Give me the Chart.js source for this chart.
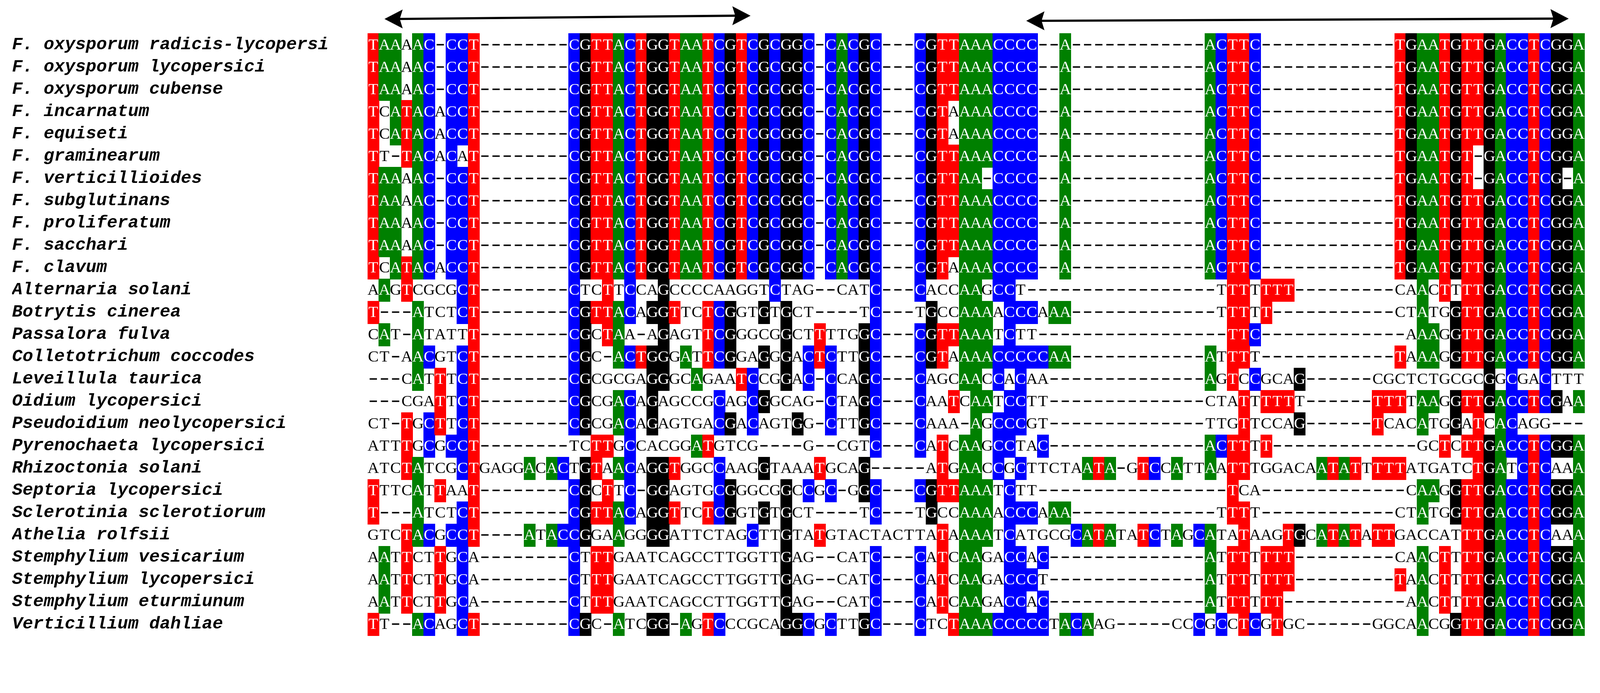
<!DOCTYPE html>
<html>
<head>
<meta charset="utf-8">
<script src="https://cdn.jsdelivr.net/npm/chart.js@4/dist/chart.umd.min.js"></script>
<style>
  html, body { margin: 0; padding: 0; background: #fff; overflow: hidden; }
  canvas { display: block; }
</style>
</head>
<body>
<canvas id="aln"></canvas>
<script>
const species = [
  "F. oxysporum radicis-lycopersi", "F. oxysporum lycopersici", "F. oxysporum cubense",
  "F. incarnatum", "F. equiseti", "F. graminearum", "F. verticillioides",
  "F. subglutinans", "F. proliferatum", "F. sacchari", "F. clavum",
  "Alternaria solani", "Botrytis cinerea", "Passalora fulva", "Colletotrichum coccodes",
  "Leveillula taurica", "Oidium lycopersici", "Pseudoidium neolycopersici",
  "Pyrenochaeta lycopersici", "Rhizoctonia solani", "Septoria lycopersici",
  "Sclerotinia sclerotiorum", "Athelia rolfsii", "Stemphylium vesicarium",
  "Stemphylium lycopersici", "Stemphylium eturmiunum", "Verticillium dahliae"
];

// aligned sequences, 109 columns each
const sequences = [
  "TAAAAC-CCT" + "--------" + "CGTTACTGGTAATCGTCGCGGC-CACGC---CGTTAAACCCC--A" + "------------" + "ACTTC" + "------------" + "TGAATGTTGACCTCGGA",
  "TAAAAC-CCT" + "--------" + "CGTTACTGGTAATCGTCGCGGC-CACGC---CGTTAAACCCC--A" + "------------" + "ACTTC" + "------------" + "TGAATGTTGACCTCGGA",
  "TAAAAC-CCT" + "--------" + "CGTTACTGGTAATCGTCGCGGC-CACGC---CGTTAAACCCC--A" + "------------" + "ACTTC" + "------------" + "TGAATGTTGACCTCGGA",
  "TCATACACCT" + "--------" + "CGTTACTGGTAATCGTCGCGGC-CACGC---CGTAAAACCCC--A" + "------------" + "ACTTC" + "------------" + "TGAATGTTGACCTCGGA",
  "TCATACACCT" + "--------" + "CGTTACTGGTAATCGTCGCGGC-CACGC---CGTAAAACCCC--A" + "------------" + "ACTTC" + "------------" + "TGAATGTTGACCTCGGA",
  "TT-TACACAT" + "--------" + "CGTTACTGGTAATCGTCGCGGC-CACGC---CGTTAAACCCC--A" + "------------" + "ACTTC" + "------------" + "TGAATGT-GACCTCGGA",
  "TAAAAC-CCT" + "--------" + "CGTTACTGGTAATCGTCGCGGC-CACGC---CGTTAA-CCCC--A" + "------------" + "ACTTC" + "------------" + "TGAATGT-GACCTCG-A",
  "TAAAAC-CCT" + "--------" + "CGTTACTGGTAATCGTCGCGGC-CACGC---CGTTAAACCCC--A" + "------------" + "ACTTC" + "------------" + "TGAATGTTGACCTCGGA",
  "TAAAAC-CCT" + "--------" + "CGTTACTGGTAATCGTCGCGGC-CACGC---CGTTAAACCCC--A" + "------------" + "ACTTC" + "------------" + "TGAATGTTGACCTCGGA",
  "TAAAAC-CCT" + "--------" + "CGTTACTGGTAATCGTCGCGGC-CACGC---CGTTAAACCCC--A" + "------------" + "ACTTC" + "------------" + "TGAATGTTGACCTCGGA",
  "TCATACACCT" + "--------" + "CGTTACTGGTAATCGTCGCGGC-CACGC---CGTAAAACCCC--A" + "------------" + "ACTTC" + "------------" + "TGAATGTTGACCTCGGA",
  "AAGTCGCGCT" + "--------" + "CTCTTCCAGCCCCAAGGTCTAG--CATC---CACCAAGCCT" + "-----------------" + "TTTTTTT" + "---------" + "CAACTTTTGACCTCGGA",
  "T---ATCTCT" + "--------" + "CGTTACAGGTTCTCGGTGTGCT----TC---TGCCAAAACCCAAA" + "-------------" + "TTTTT" + "-----------" + "CTATGGTTGACCTCGGA",
  "CAT-ATATTT" + "--------" + "CGCTAA-AGAGTTCGGGCGGCTTTTGGC---CGTTAAATCTT" + "-----------------" + "TTC" + "-------------" + "AAAGGTTGACCTCGGA",
  "CT-AACGTCT" + "--------" + "CGC-ACTGGGATTCGGAGGGACTCTTGC---CGTAAAACCCCCAA" + "------------" + "ATTTT" + "------------" + "TAAAGGTTGACCTCGGA",
  "---CATTTCT" + "--------" + "CGCGCGAGGGCAGAATCCGGAC-CCAGC---CAGCAACCACAA" + "--------------" + "AGTCCGCAG" + "------" + "CGCTCTGCGCGGCGACTTT",
  "---CGATTCT" + "--------" + "CGCGACAGAGCCGCAGCGGCAG-CTAGC---CAATCAATCCTT" + "--------------" + "CTATTTTTT" + "------" + "TTTTAAGGTTGACCTCGAA",
  "CT-TGCTTCT" + "--------" + "CGCGACAGAGTGACGACAGTGG-CTTGC---CAAA-AGCCCGT" + "--------------" + "TTGTTCCAG" + "------" + "TCACATGGATCACAGG---",
  "ATTTGCGCCT" + "--------" + "TCTTGCCACGGATGTCG----G--CGTC---CATCAAGCCTAC" + "--------------" + "ACTTTT" + "-------------" + "GCTCTTGACCTCGGA",
  "ATCTATCGCT" + "GAGGACAC" + "TGTAACAGGTGGCCAAGGTAAATGCAG-----ATGAACCGCTTCTAATA-GTCCATT" + "AATTTGGACAATATTTTTATGATCTGATCTCAAA",
  "TTTCATTAAT" + "--------" + "CGCTTC-GGAGTGCGGGCGGCCGC-GGC---CGTTAAATCTT" + "-----------------" + "TCA" + "-------------" + "CAAGGTTGACCTCGGA",
  "T---ATCTCT" + "--------" + "CGTTACAGGTTCTCGGTGTGCT----TC---TGCCAAAACCCAAA" + "-------------" + "TTTT" + "------------" + "CTATGGTTGACCTCGGA",
  "GTCTACGCCT" + "----" + "ATACCGGAAGGGGATTCTAGCTTGTATGTACTACTTATAAAATCATGCGCATATATCTAGCATATAAGTGCATATATTGACCATTTGACCTCAAA",
  "AATTCTTGCA" + "--------" + "CTTTGAATCAGCCTTGGTTGAG--CATC---CATCAAGACCAC" + "--------------" + "ATTTTTTT" + "---------" + "CAACTTTTGACCTCGGA",
  "AATTCTTGCA" + "--------" + "CTTTGAATCAGCCTTGGTTGAG--CATC---CATCAAGACCCT" + "--------------" + "ATTTTTTT" + "---------" + "TAACTTTTGACCTCGGA",
  "AATTCTTGCA" + "--------" + "CTTTGAATCAGCCTTGGTTGAG--CATC---CATCAAGACCAC" + "--------------" + "ATTTTTT" + "-----------" + "AACTTTTGACCTCGGA",
  "TT--ACAGCT" + "--------" + "CGC-ATCGG-AGTCCCGCAGGCGCTTGC---CTCTAAACCCCCTACAAG" + "-----" + "CCCGCCTCGTGC" + "------" + "GGCAACGGTTGACCTCGGA"
];

// double-headed arrows above the alignment, in column units
const arrowStart = [1.5, 59.0];
const arrowEnd = [34.3, 107.6];
const arrowYStart = [52, 57];
const arrowYEnd = [43, 51];

const NCOL = 109;
const baseColor = { A: "#008000", C: "#0000ff", G: "#000000", T: "#ff0000" };

// fit the 4386x1773 design into whatever the window really is
const S = Math.min(window.innerWidth / 4386, window.innerHeight / 1773) || 1;
const canvas = document.getElementById("aln");
canvas.width = Math.round(4386 * S);
canvas.height = Math.round(1773 * S);

// column consensus decides which cells are shaded
const consensus = [];
for (let c = 0; c < NCOL; c++) {
  const cnt = {};
  sequences.forEach(s => {
    const b = s[c];
    if (b && b !== "-") cnt[b] = (cnt[b] || 0) + 1;
  });
  let best = null, n = 0;
  Object.keys(cnt).forEach(b => { if (cnt[b] > n) { best = b; n = cnt[b]; } });
  consensus.push(n >= 2 ? best : null);
}

const cells = [];
sequences.forEach((s, r) => {
  for (let c = 0; c < NCOL; c++) {
    const b = s[c] || "-";
    cells.push({ x: c + 0.5, y: species[r], base: b, shade: b !== "-" && b === consensus[c] });
  }
});

const cellPlugin = {
  id: "cells",
  afterDatasetsDraw(chart) {
    const ctx = chart.ctx;
    const xs = chart.scales.x, ys = chart.scales.y;
    const w = xs.getPixelForValue(1) - xs.getPixelForValue(0);
    const h = (ys.bottom - ys.top) / species.length;
    const pts = chart.getDatasetMeta(0).data;
    ctx.save();
    pts.forEach((p, i) => {
      const d = cells[i];
      if (!d.shade) return;
      ctx.fillStyle = baseColor[d.base];
      ctx.fillRect(Math.floor(p.x - w / 2), Math.floor(p.y - h / 2), Math.ceil(w) + 1, Math.ceil(h) + 1);
    });
    ctx.font = Math.round(44 * S) + "px 'Liberation Serif'";
    ctx.textAlign = "center";
    ctx.textBaseline = "middle";
    pts.forEach((p, i) => {
      const d = cells[i];
      if (d.base === "-") {
        ctx.fillStyle = "#000";
        ctx.fillRect(p.x - 10 * S, p.y - 2 * S, 20 * S, 4 * S);
        return;
      }
      ctx.fillStyle = d.shade ? "#ffffff" : "#000000";
      ctx.fillText(d.base, p.x, p.y + 2 * S);
    });

    // arrows
    ctx.fillStyle = "#000";
    ctx.strokeStyle = "#000";
    ctx.lineWidth = 6 * S;
    arrowStart.forEach((a, k) => {
      const x1 = xs.getPixelForValue(a), x2 = xs.getPixelForValue(arrowEnd[k]);
      const y1 = arrowYStart[k] * S, y2 = arrowYEnd[k] * S;
      ctx.beginPath();
      ctx.moveTo(x1 + 40 * S, y1);
      ctx.lineTo(x2 - 40 * S, y2);
      ctx.stroke();
      [[x1, y1, 1], [x2, y2, -1]].forEach(([x, y, dir]) => {
        ctx.beginPath();
        ctx.moveTo(x, y);
        ctx.lineTo(x + dir * 50 * S, y - 26 * S);
        ctx.lineTo(x + dir * 42 * S, y);
        ctx.lineTo(x + dir * 50 * S, y + 26 * S);
        ctx.closePath();
        ctx.fill();
      });
    });
    ctx.restore();
  }
};

new Chart(canvas.getContext("2d"), {
  type: "scatter",
  data: {
    datasets: [{ data: cells, pointRadius: 0, pointHoverRadius: 0 }]
  },
  options: {
    responsive: false,
    animation: false,
    devicePixelRatio: 1,
    events: [],
    layout: { padding: { left: 33 * S, right: 43 * S, top: 92 * S, bottom: 33 * S } },
    plugins: { legend: { display: false }, tooltip: { enabled: false } },
    scales: {
      x: { type: "linear", min: 0, max: NCOL, display: false },
      y: {
        type: "category",
        labels: species,
        offset: true,
        grid: { display: false },
        border: { display: false },
        afterFit(scale) { scale.width = 975 * S; },
        ticks: {
          autoSkip: false,
          crossAlign: "far",
          padding: 0,
          color: "#000",
          font: { family: "'Liberation Mono'", size: Math.round(48 * S), style: "italic", weight: "bold" }
        }
      }
    }
  },
  plugins: [cellPlugin]
});
</script>
</body>
</html>
